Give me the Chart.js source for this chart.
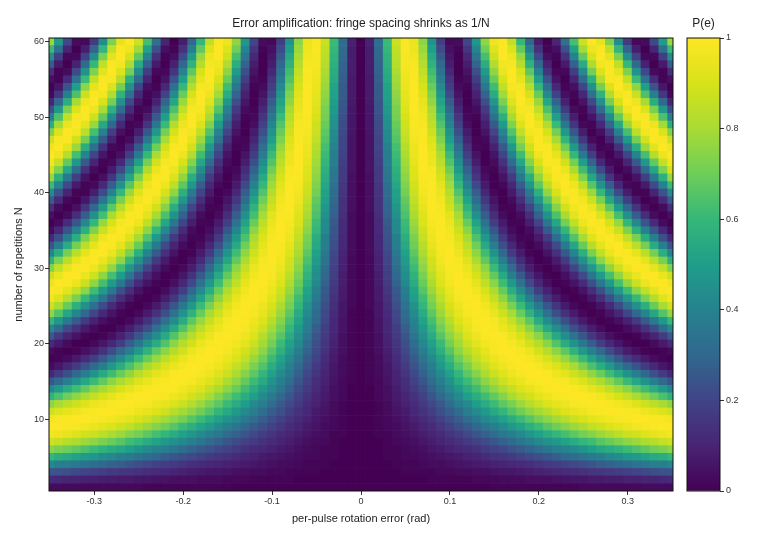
<!DOCTYPE html>
<html>
<head>
<meta charset="utf-8">
<script src="https://cdn.jsdelivr.net/npm/chart.js@4"></script>
<style>
body { margin: 0; background: #fff; }
#heat { position: absolute; left: 0; top: 0; }
#bar { position: absolute; left: 660px; top: 0; }
</style>
</head>
<body>
<canvas id="heat" width="760" height="540"></canvas>
<canvas id="bar" width="100" height="540"></canvas>
<script>
// columns read on the right half of the picture, the left half is its mirror image
const errors = [0,0.01,0.02,0.03,0.04,0.05,0.06,0.07,0.08,0.09,0.1,0.11,0.12,0.13,0.14,0.15,0.16,0.17,0.18,0.19,0.2,0.21,0.22,0.23,0.24,0.25,0.26,0.27,0.28,0.29,0.3,0.31,0.32,0.33,0.34,0.35];
const xTicks = [-0.3,-0.2,-0.1,0,0.1,0.2,0.3];
const yTicks = [10,20,30,40,50,60];
const barTicks = [0,0.2,0.4,0.6,0.8,1];
// colour scale, one stop per 0.1
const colorStops = ['#440154','#482475','#414487','#31688e','#26828e','#1f9e89','#35b779','#6ece58','#a8db34','#d8e219','#fde725'];

// P(e) in percent, one line per N, starting at N = 1
const rows = [
[0,0,0,0,0,0,0,0,0,0,0,0,0,0,0,1,1,1,1,1,1,1,1,1,1,2,2,2,2,2,2,2,3,3,3,3],
[0,0,0,0,0,0,0,0,1,1,1,1,1,2,2,2,3,3,3,4,4,4,5,5,6,6,7,7,8,8,9,9,10,10,11,12],
[0,0,0,0,0,1,1,1,1,2,2,3,3,4,4,5,6,6,7,8,9,10,11,12,13,14,15,16,17,18,19,20,21,23,24,25],
[0,0,0,0,1,1,1,2,3,3,4,5,6,7,8,9,10,11,12,13,15,17,18,19,21,23,25,27,28,30,32,34,36,38,39,42],
[0,0,0,1,1,2,2,3,4,5,6,7,9,10,12,14,15,17,19,21,23,25,27,30,32,34,37,39,42,44,47,49,52,54,56,59],
[0,0,0,1,1,2,3,4,6,7,9,11,12,14,17,19,21,24,26,29,32,35,38,40,43,46,50,53,55,58,61,64,67,70,72,75],
[0,0,0,1,2,3,4,6,8,10,12,14,17,19,22,25,28,31,35,38,42,45,48,52,55,59,62,66,69,72,75,78,81,83,86,88],
[0,0,1,1,3,4,6,8,10,12,15,18,21,25,28,32,36,39,43,47,51,55,59,63,67,71,74,78,81,84,87,89,92,94,96,97],
[0,0,1,2,3,5,7,10,12,16,19,23,26,30,35,39,43,48,52,57,61,66,70,74,78,81,85,88,91,93,95,97,98,99,100,100],
[0,0,1,2,4,6,9,12,15,19,23,27,32,37,42,46,51,56,61,66,71,75,79,83,87,90,93,95,97,98,99,100,100,99,98,97],
[0,0,1,3,5,7,11,14,18,23,27,32,38,43,48,54,59,65,70,75,79,83,88,91,94,96,98,99,100,100,99,98,96,94,91,88],
[0,0,1,3,6,9,12,17,21,26,32,38,43,50,55,61,67,72,78,83,87,91,94,96,98,99,100,100,99,97,95,92,88,84,80,75],
[0,0,2,4,7,10,14,19,25,30,37,43,50,56,62,68,74,80,85,89,93,96,98,99,100,100,99,97,94,90,86,81,76,70,64,58],
[0,0,2,4,8,12,17,22,28,35,42,48,55,62,69,75,81,86,91,94,97,99,100,100,99,97,94,90,85,80,75,68,62,55,48,41],
[0,1,2,5,9,13,19,25,32,39,46,54,61,68,75,81,87,92,95,98,99,100,99,98,95,91,86,81,75,68,61,53,46,38,31,25],
[0,1,3,6,10,15,21,28,36,43,51,59,67,74,81,87,92,96,98,100,100,99,96,93,88,83,76,69,62,54,46,38,30,23,17,11],
[0,1,3,6,11,17,24,31,39,48,56,65,72,80,86,92,96,98,100,100,98,95,91,86,80,72,64,56,48,39,31,24,17,11,6,3],
[0,1,3,7,12,19,26,35,43,52,61,70,78,85,91,95,98,100,100,98,95,90,84,77,69,61,52,43,34,26,18,12,7,3,1,0],
[0,1,4,8,14,21,29,38,47,57,66,75,83,89,94,98,100,100,98,95,89,83,75,67,58,48,39,30,22,14,8,4,1,0,1,3],
[0,1,4,9,15,23,32,42,51,61,71,79,87,93,97,99,100,98,95,89,83,75,65,55,46,36,27,18,11,6,2,0,0,3,7,12],
[0,1,4,10,17,25,35,45,55,66,75,83,91,96,99,100,99,95,90,83,75,65,54,44,34,25,16,9,4,1,0,1,5,10,17,26],
[0,1,5,11,18,27,38,48,59,70,79,88,94,98,100,99,96,91,84,75,65,54,44,33,23,15,8,3,0,0,3,7,14,22,32,42],
[0,1,5,11,20,30,40,52,63,74,83,91,96,99,100,98,93,86,77,67,55,44,33,23,14,7,2,0,1,4,9,17,26,37,48,60],
[0,1,6,12,21,32,43,55,67,78,87,94,98,100,99,95,88,80,69,58,46,34,23,14,7,2,0,1,5,11,20,30,41,53,65,76],
[0,2,6,13,23,34,46,59,71,81,90,96,99,100,97,91,83,72,61,48,36,25,15,7,2,0,1,5,12,22,33,45,57,69,80,89],
[0,2,7,14,25,37,50,62,74,85,93,98,100,99,94,86,76,64,52,39,27,16,8,2,0,1,6,13,23,35,47,60,72,83,92,97],
[0,2,7,16,26,39,52,66,78,88,95,99,100,97,90,81,69,56,43,30,18,9,3,0,1,5,13,23,36,49,62,75,85,93,98,100],
[0,2,8,17,28,42,55,69,81,91,97,100,99,94,85,75,62,48,34,21,11,4,0,1,5,12,23,36,49,63,76,87,95,99,100,96],
[0,2,8,18,30,44,58,72,84,93,98,100,97,90,80,68,54,39,26,14,6,1,0,4,11,22,35,49,63,76,88,95,100,100,95,87],
[0,2,9,19,32,46,61,75,87,95,99,99,95,86,75,61,46,31,18,8,2,0,3,9,20,33,47,62,76,88,96,100,99,94,85,73],
[0,2,9,20,34,49,64,78,89,97,100,98,92,81,68,53,38,24,12,4,0,1,7,17,30,45,60,75,87,95,100,99,94,84,72,57],
[0,3,10,21,36,51,67,81,92,98,100,96,88,76,62,46,30,17,7,1,0,5,14,26,41,57,72,85,95,100,99,94,84,71,56,40],
[0,3,11,23,38,54,70,83,94,99,99,94,84,70,54,38,23,11,3,0,3,10,22,37,53,69,83,93,99,100,94,84,71,55,39,24],
[0,3,11,24,39,56,72,86,96,100,98,91,80,64,48,31,17,6,1,1,7,17,32,48,65,80,92,98,100,96,85,72,56,39,23,11],
[0,3,12,25,42,59,75,88,97,100,97,88,75,58,41,25,11,3,0,3,12,26,42,59,76,89,97,100,96,87,73,57,40,24,11,3],
[0,3,12,26,43,61,78,91,98,100,95,84,69,52,34,18,7,1,1,8,20,36,53,71,85,96,100,98,90,77,60,42,25,12,3,0],
[0,3,13,28,45,64,80,92,99,99,93,80,63,45,27,13,3,0,3,13,28,46,64,80,93,99,99,92,80,63,45,27,13,3,0,4],
[0,4,14,29,47,66,83,94,100,98,89,75,58,39,21,8,1,1,8,20,37,56,74,89,97,100,95,83,67,49,30,15,4,0,3,13],
[0,4,14,30,50,68,85,96,100,97,86,70,52,32,16,5,0,3,13,29,47,66,83,95,100,97,87,72,53,35,18,6,0,2,12,27],
[0,4,15,32,51,71,87,97,100,95,83,65,46,27,11,2,0,7,20,37,57,76,90,99,99,92,78,60,40,22,8,1,1,10,24,43],
[0,4,16,33,53,73,89,98,100,93,79,60,40,21,7,0,2,11,27,47,67,84,96,100,96,84,66,46,27,11,2,1,7,22,40,61],
[0,4,17,35,55,75,91,99,99,90,75,54,34,16,4,0,5,17,36,56,76,91,99,99,90,73,53,33,15,4,0,5,18,36,57,77],
[0,5,17,36,57,77,92,100,98,87,70,49,28,12,2,1,9,24,44,66,84,96,100,95,81,62,41,21,7,0,3,14,32,53,73,90],
[0,5,18,38,59,79,94,100,96,84,65,44,23,8,0,3,14,32,53,74,90,99,98,89,71,50,29,11,2,1,10,26,47,68,86,97],
[0,5,19,39,61,81,95,100,95,81,61,38,18,5,0,5,20,40,62,82,96,100,94,80,60,37,18,4,0,6,20,41,63,83,96,100],
[0,5,20,40,63,83,96,100,93,77,55,33,14,2,1,9,26,48,71,89,99,99,89,70,48,26,9,1,2,14,33,56,78,93,100,96],
[0,5,20,42,65,85,97,99,91,73,50,28,10,1,2,14,34,57,78,94,100,95,80,59,36,16,3,0,9,26,48,71,89,99,98,87],
[0,6,21,43,67,87,98,99,88,69,46,23,7,0,5,20,41,65,85,97,99,90,71,48,25,8,0,4,18,40,63,84,97,100,91,73],
[0,6,22,45,69,88,99,98,85,65,41,19,4,0,8,26,49,73,91,100,96,82,61,36,15,2,1,11,30,54,77,93,100,95,79,56],
[0,6,23,46,71,90,99,97,83,61,36,15,2,1,12,33,57,80,96,100,92,73,50,26,8,0,5,20,43,68,88,99,98,85,64,39],
[0,6,24,48,72,92,100,95,80,56,31,11,1,3,17,40,65,86,98,98,85,64,39,17,3,1,12,32,57,80,96,100,91,72,47,23],
[0,7,25,50,74,93,100,94,76,52,27,8,0,6,23,47,72,92,100,95,78,53,29,9,0,5,21,45,71,90,100,96,80,56,30,10],
[0,7,26,51,76,94,100,92,73,47,22,5,0,9,29,55,79,96,100,90,69,43,19,4,1,11,33,58,82,97,99,87,64,39,16,2],
[0,7,26,52,78,95,100,90,69,43,18,3,1,13,36,62,85,98,98,83,60,33,11,1,4,20,45,71,91,100,94,75,50,24,6,0],
[0,7,27,54,79,96,99,88,65,38,15,1,3,18,42,69,90,100,94,76,50,24,5,0,10,31,57,83,98,99,85,61,34,12,1,4],
[0,8,28,55,81,97,99,85,62,34,11,0,5,23,49,76,95,100,90,67,40,15,2,2,18,43,71,91,100,93,73,46,21,3,1,13],
[0,8,29,57,83,98,98,83,58,30,8,0,8,29,56,82,97,98,83,58,30,9,0,7,28,55,81,97,99,85,60,31,9,0,7,27],
[0,8,30,58,84,98,97,80,54,26,6,0,11,35,63,88,100,96,77,49,22,4,1,14,40,68,90,100,93,72,44,19,2,2,18,44],
[0,8,31,60,85,99,96,78,50,22,4,1,15,41,70,92,100,91,68,39,14,1,4,23,51,79,96,99,85,59,29,8,0,10,33,61],
[0,9,32,61,87,99,95,75,46,18,2,3,20,47,76,96,99,85,60,30,8,0,10,33,63,88,100,94,73,44,17,2,3,21,49,77]
];

function scaleColor(p) {
  const t = p / 100 * (colorStops.length - 1);
  const i = Math.min(Math.floor(t), colorStops.length - 2);
  const f = t - i;
  const a = parseInt(colorStops[i].slice(1), 16), b = parseInt(colorStops[i + 1].slice(1), 16);
  const mix = function(s) {
    const x = (a >> s) & 255, y = (b >> s) & 255;
    return Math.round(x + (y - x) * f);
  };
  return 'rgb(' + mix(16) + ',' + mix(8) + ',' + mix(0) + ')';
}

const columns = errors.slice(1).reverse().map(function(e) { return -e; }).concat(errors);
const datasets = rows.map(function(row, r) {
  const full = row.slice(1).reverse().concat(row);
  const n = r + 1;
  return {
    // a little overlap so no white hairlines show between cells
    data: columns.map(function(e) { return { x: e, y: [n - 0.54, n + 0.54] }; }),
    backgroundColor: full.map(scaleColor),
    borderWidth: 0,
    grouped: false,
    barPercentage: 1.08,
    categoryPercentage: 1
  };
});

const frame = {
  id: 'frame',
  afterDraw: function(chart) {
    const c = chart.ctx, a = chart.chartArea;
    c.save();
    c.strokeStyle = '#111';
    c.lineWidth = 1;
    c.strokeRect(a.left, a.top, a.right - a.left, a.bottom - a.top);
    c.restore();
  }
};

Chart.defaults.font.family = '"Liberation Sans", Arial, sans-serif';
Chart.defaults.color = '#333';
Chart.defaults.animation = false;

const tickGrid = { display: true, offset: false, drawOnChartArea: false, drawTicks: true, tickLength: 4, tickColor: '#333' };

new Chart(document.getElementById('heat'), {
  type: 'bar',
  data: { datasets: datasets },
  options: {
    responsive: false,
    layout: { padding: { right: 87 } },
    plugins: {
      legend: { display: false },
      tooltip: { enabled: false },
      title: {
        display: true,
        text: 'Error amplification: fringe spacing shrinks as 1/N',
        fullSize: false,
        color: '#222',
        font: { size: 12, weight: 'normal' },
        padding: { top: 16.8, bottom: 6.8 }
      }
    },
    scales: {
      x: {
        type: 'linear', min: -0.351, max: 0.351, offset: false,
        grid: tickGrid,
        border: { display: false },
        afterFit: function(s) { s.height = 49; },
        afterBuildTicks: function(s) { s.ticks = xTicks.map(function(v) { return { value: v }; }); },
        ticks: {
          autoSkip: false, maxRotation: 0, padding: 1, font: { size: 9 },
          callback: function(v) { return String(v); }
        },
        title: { display: true, text: 'per-pulse rotation error (rad)', color: '#222', font: { size: 11 }, padding: { top: 0, bottom: 14.4 } }
      },
      y: {
        type: 'linear', min: 0.5, max: 60.5,
        grid: tickGrid,
        border: { display: false },
        afterFit: function(s) { s.width = 49; },
        afterBuildTicks: function(s) { s.ticks = yTicks.map(function(v) { return { value: v }; }); },
        ticks: { autoSkip: false, padding: 1, font: { size: 9 } },
        title: { display: true, text: 'number of repetitions N', color: '#222', font: { size: 11 }, padding: { top: 12.4, bottom: 0 } }
      }
    }
  },
  plugins: [frame]
});

new Chart(document.getElementById('bar'), {
  type: 'bar',
  data: {
    labels: ['P(e)'],
    datasets: [{
      data: [[0, 1]],
      borderWidth: 0,
      barPercentage: 1,
      categoryPercentage: 1,
      backgroundColor: function(ctx) {
        const a = ctx.chart.chartArea;
        if (!a) return colorStops[0];
        const g = ctx.chart.ctx.createLinearGradient(0, a.bottom, 0, a.top);
        colorStops.forEach(function(c, i) { g.addColorStop(i / (colorStops.length - 1), c); });
        return g;
      }
    }]
  },
  options: {
    responsive: false,
    layout: { padding: { left: 27, right: 0 } },
    plugins: {
      legend: { display: false },
      tooltip: { enabled: false },
      title: {
        display: true,
        text: 'P(e)',
        fullSize: false,
        color: '#222',
        font: { size: 12, weight: 'normal' },
        padding: { top: 16.8, bottom: 6.8 }
      }
    },
    scales: {
      x: { display: true, grid: { display: false }, border: { display: false }, ticks: { display: false }, afterFit: function(s) { s.height = 49; } },
      y: {
        type: 'linear', position: 'right', min: 0, max: 1,
        grid: tickGrid,
        border: { display: false },
        afterFit: function(s) { s.width = 40; },
        afterBuildTicks: function(s) { s.ticks = barTicks.map(function(v) { return { value: v }; }); },
        ticks: { autoSkip: false, padding: 2, font: { size: 9 }, callback: function(v) { return String(v); } }
      }
    }
  },
  plugins: [frame]
});
</script>
</body>
</html>
